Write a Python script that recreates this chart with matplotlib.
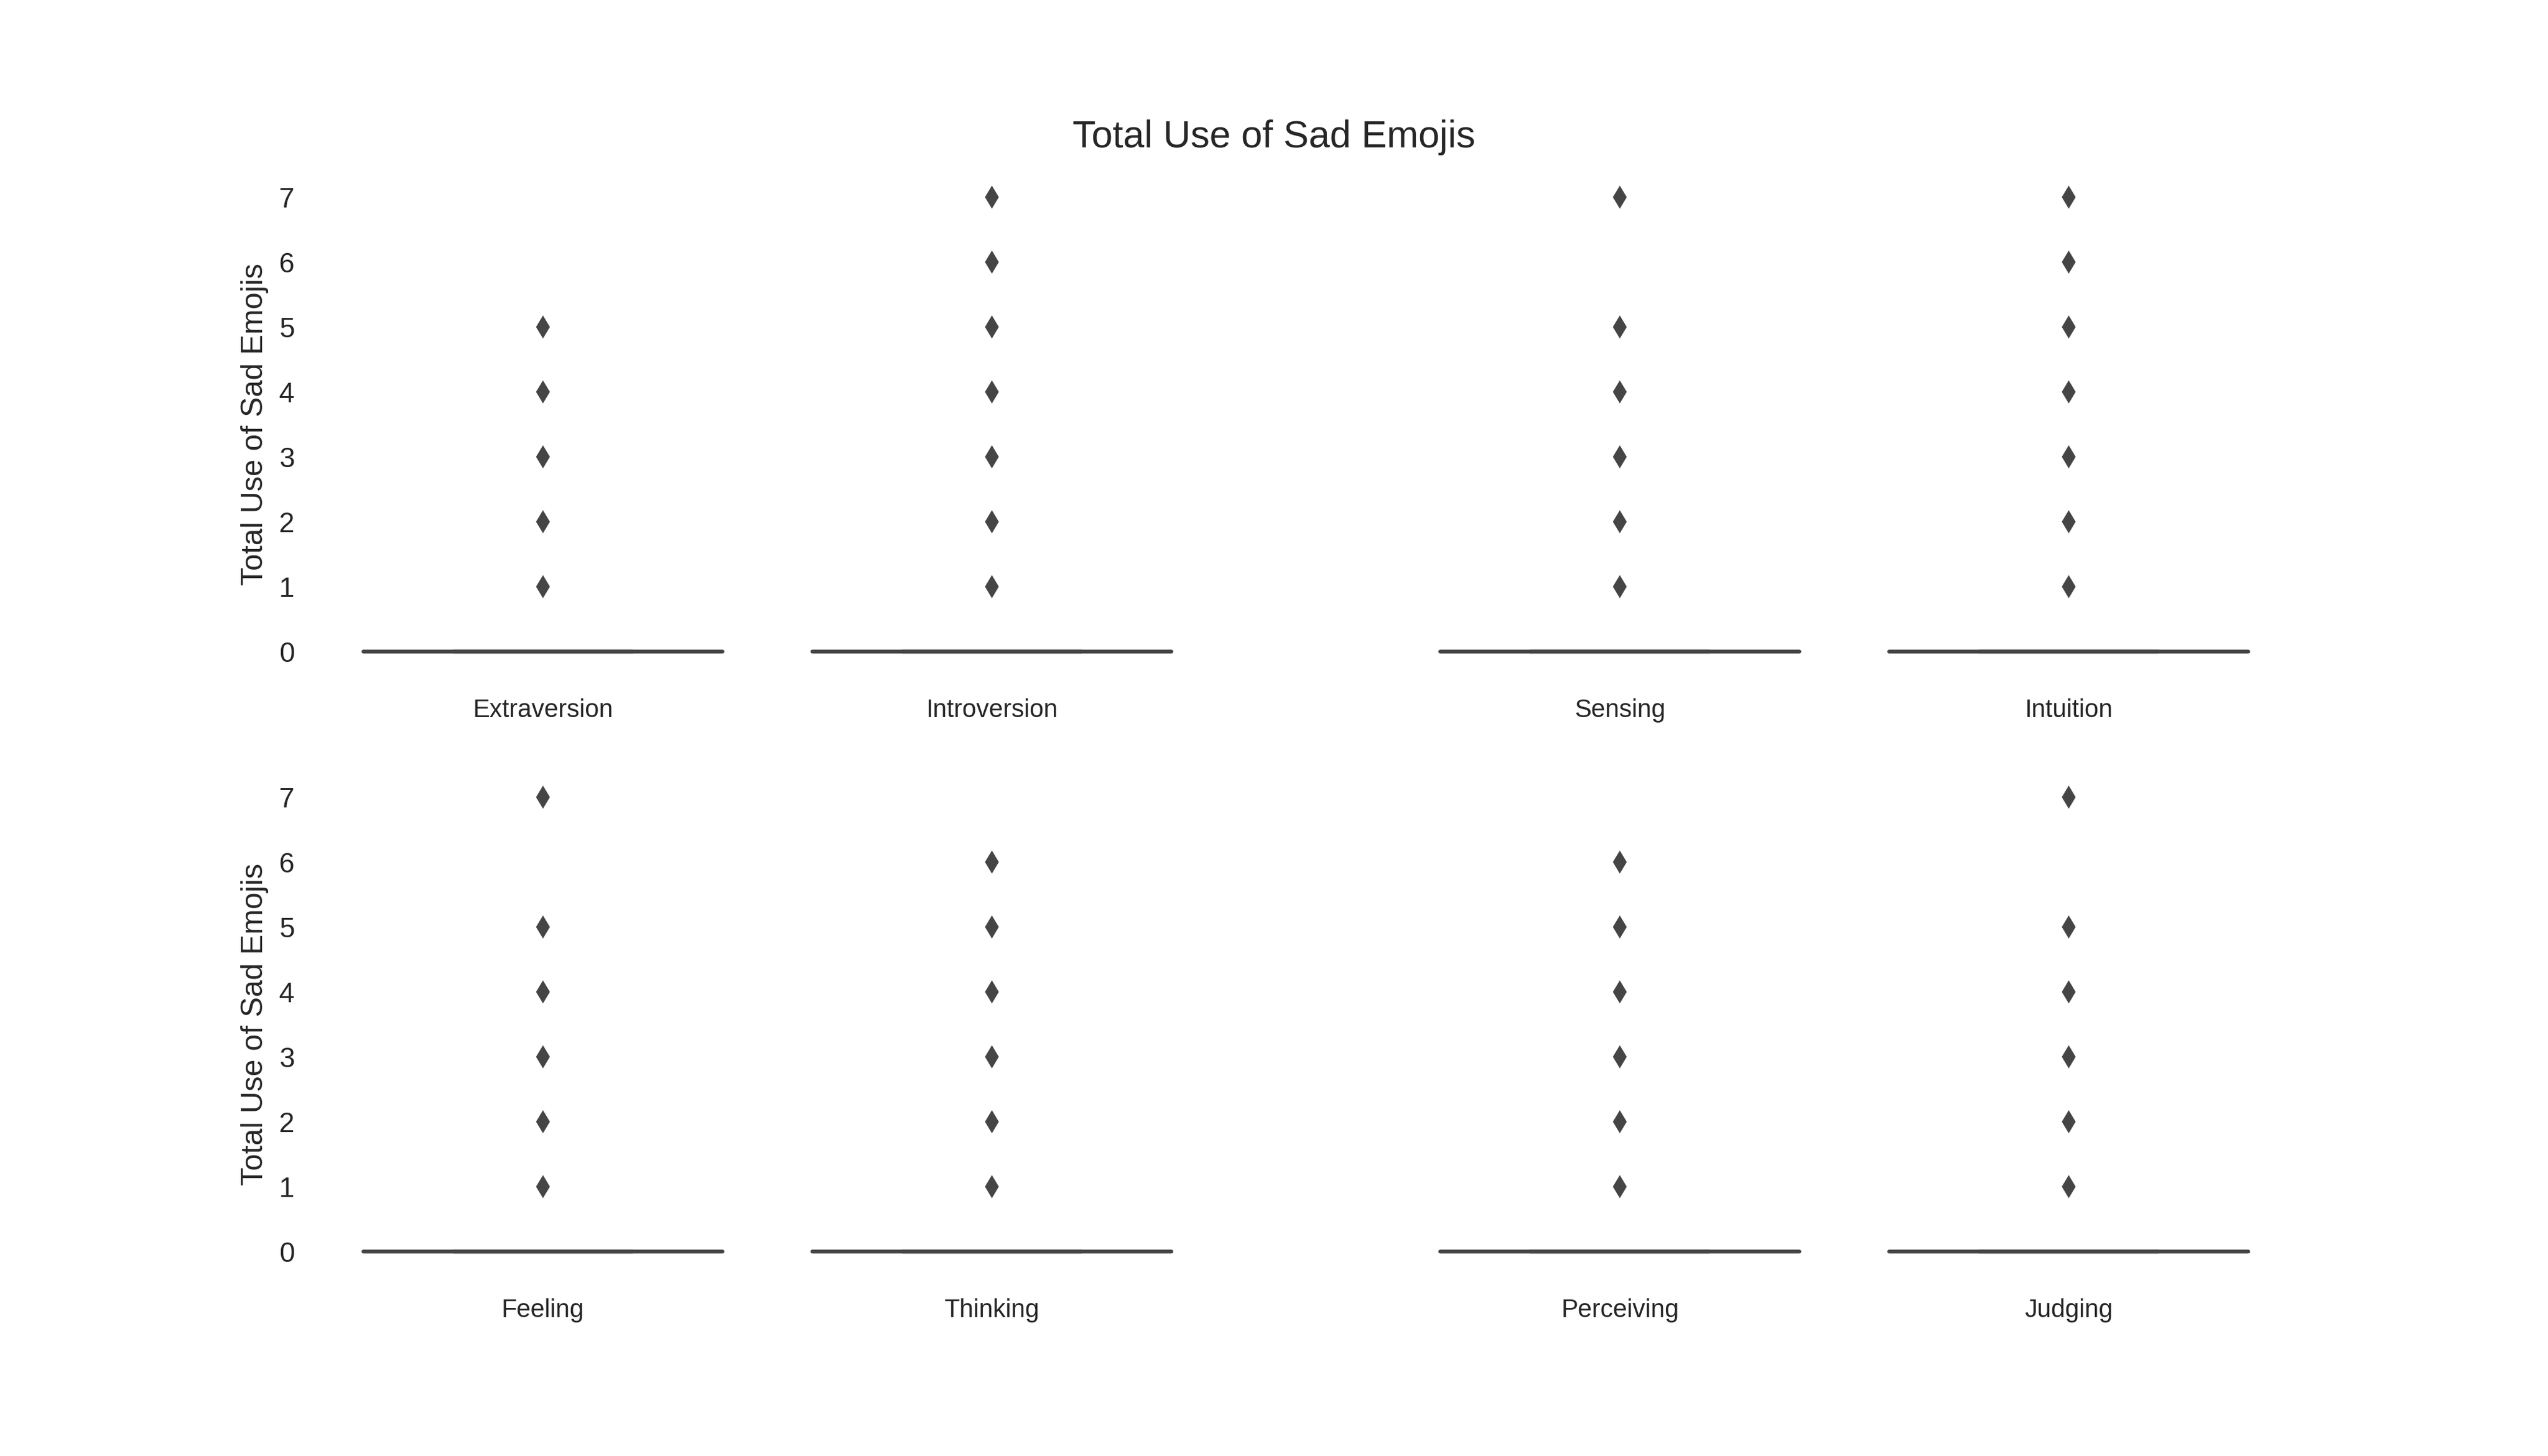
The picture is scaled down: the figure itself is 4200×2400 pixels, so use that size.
import numpy as np
import matplotlib
matplotlib.use("Agg")
import matplotlib.pyplot as plt
import seaborn as sns

sns.set_theme(style="white", context="notebook")
plt.rcParams['font.family'] = ['Liberation Sans', 'DejaVu Sans']

# number of sad emojis used (0..7) and how many people used each amount
emoji_values = [0, 1, 2, 3, 4, 5, 6, 7]
extraversion = [60, 1, 1, 1, 1, 1, 0, 0]
introversion = [60, 1, 1, 1, 1, 1, 1, 1]
sensing = [60, 1, 1, 1, 1, 1, 0, 1]
intuition = [60, 1, 1, 1, 1, 1, 1, 1]
feeling = [60, 1, 1, 1, 1, 1, 0, 1]
thinking = [60, 1, 1, 1, 1, 1, 1, 0]
perceiving = [60, 1, 1, 1, 1, 1, 1, 0]
judging = [60, 1, 1, 1, 1, 1, 0, 1]

panels = [
    [("Extraversion", extraversion), ("Introversion", introversion)],
    [("Sensing", sensing), ("Intuition", intuition)],
    [("Feeling", feeling), ("Thinking", thinking)],
    [("Perceiving", perceiving), ("Judging", judging)],
]

gray = "#454545"
ylabel = "Total Use of Sad Emojis"

fig, axes = plt.subplots(2, 2, figsize=(14, 8), sharey=True)
plt.subplots_adjust(left=0.125, right=0.9, top=0.88, bottom=0.125, wspace=0.2, hspace=0.2)

for ax, panel in zip(axes.flat, panels):
    names = [p[0] for p in panel]
    data = [np.repeat(emoji_values, p[1]) for p in panel]
    ax.boxplot(data, positions=[0, 1], widths=0.8, patch_artist=True,
               boxprops=dict(facecolor="white", edgecolor=gray, linewidth=1.5),
               whiskerprops=dict(color=gray, linewidth=1.5),
               capprops=dict(color="#555555", linewidth=1.5),
               medianprops=dict(color=gray, linewidth=1.5, solid_capstyle="round"),
               flierprops=dict(marker="d", markersize=5, markerfacecolor=gray,
                               markeredgecolor=gray, markeredgewidth=1))
    ax.set_xlim(-0.5, 1.5)
    ax.set_xticks([0, 1])
    ax.set_xticklabels(names, fontsize=10)
    ax.set_yticks(emoji_values)
    for s in ax.spines.values():
        s.set_visible(False)

for ax in axes[:, 0]:
    ax.set_ylabel(ylabel, fontsize=12)

fig.suptitle("Total Use of Sad Emojis", fontsize=15, y=0.918)

plt.savefig("out.png", dpi=300)
